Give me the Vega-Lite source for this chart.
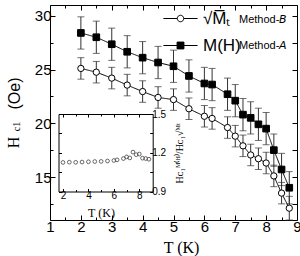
{
  "$schema": "https://vega.github.io/schema/vega-lite/v6.json",
  "autosize": {"type": "none"},
  "padding": {"left": 50, "top": 5, "right": 3, "bottom": 36},
  "width": 247,
  "height": 215,
  "background": "white",
  "config": {
    "view": {"stroke": null},
    "axis": {
      "grid": false,
      "domainColor": "#000",
      "domainWidth": 1,
      "tickColor": "#000",
      "tickWidth": 1,
      "labelColor": "#000",
      "titleColor": "#000",
      "labelFont": "Liberation Sans",
      "titleFont": "Liberation Serif",
      "titleFontWeight": "normal"
    },
    "legend": {"labelColor": "#000", "labelLimit": 300}
  },
  "datasets": {
    "hc1": [
      {"T": 2, "method": "B", "series": "Method-B", "H": 25.1, "err": 1.0},
      {"T": 2.5, "method": "B", "series": "Method-B", "H": 24.75, "err": 1.0},
      {"T": 3, "method": "B", "series": "Method-B", "H": 24.2, "err": 1.0},
      {"T": 3.5, "method": "B", "series": "Method-B", "H": 23.55, "err": 1.0},
      {"T": 4, "method": "B", "series": "Method-B", "H": 22.95, "err": 1.0},
      {"T": 4.5, "method": "B", "series": "Method-B", "H": 22.4, "err": 1.0},
      {"T": 5, "method": "B", "series": "Method-B", "H": 22.2, "err": 1.0},
      {"T": 5.5, "method": "B", "series": "Method-B", "H": 21.35, "err": 1.0},
      {"T": 6, "method": "B", "series": "Method-B", "H": 20.65, "err": 1.0},
      {"T": 6.25, "method": "B", "series": "Method-B", "H": 20.45, "err": 1.0},
      {"T": 6.75, "method": "B", "series": "Method-B", "H": 19.6, "err": 1.0},
      {"T": 7, "method": "B", "series": "Method-B", "H": 18.8, "err": 1.0},
      {"T": 7.25, "method": "B", "series": "Method-B", "H": 17.9, "err": 1.0},
      {"T": 7.5, "method": "B", "series": "Method-B", "H": 17.05, "err": 1.0},
      {"T": 7.75, "method": "B", "series": "Method-B", "H": 16.7, "err": 1.0},
      {"T": 8, "method": "B", "series": "Method-B", "H": 16.3, "err": 1.0},
      {"T": 8.25, "method": "B", "series": "Method-B", "H": 15.1, "err": 1.0},
      {"T": 8.5, "method": "B", "series": "Method-B", "H": 13.5, "err": 1.0},
      {"T": 8.75, "method": "B", "series": "Method-B", "H": 12.1, "err": 1.1},
      {"T": 2, "method": "A", "series": "Method-A", "H": 28.4, "err": 1.5},
      {"T": 2.5, "method": "A", "series": "Method-A", "H": 28.0, "err": 1.5},
      {"T": 3, "method": "A", "series": "Method-A", "H": 27.35, "err": 1.5},
      {"T": 3.5, "method": "A", "series": "Method-A", "H": 26.65, "err": 1.5},
      {"T": 4, "method": "A", "series": "Method-A", "H": 26.1, "err": 1.5},
      {"T": 4.5, "method": "A", "series": "Method-A", "H": 25.65, "err": 1.5},
      {"T": 5, "method": "A", "series": "Method-A", "H": 25.3, "err": 1.5},
      {"T": 5.5, "method": "A", "series": "Method-A", "H": 24.4, "err": 1.5},
      {"T": 6, "method": "A", "series": "Method-A", "H": 23.7, "err": 1.5},
      {"T": 6.25, "method": "A", "series": "Method-A", "H": 23.6, "err": 1.5},
      {"T": 6.75, "method": "A", "series": "Method-A", "H": 22.7, "err": 1.5},
      {"T": 7, "method": "A", "series": "Method-A", "H": 22.1, "err": 1.5},
      {"T": 7.25, "method": "A", "series": "Method-A", "H": 20.8, "err": 1.5},
      {"T": 7.5, "method": "A", "series": "Method-A", "H": 20.5, "err": 1.5},
      {"T": 7.75, "method": "A", "series": "Method-A", "H": 19.9, "err": 1.5},
      {"T": 8, "method": "A", "series": "Method-A", "H": 19.5, "err": 1.5},
      {"T": 8.25, "method": "A", "series": "Method-A", "H": 17.5, "err": 1.5},
      {"T": 8.5, "method": "A", "series": "Method-A", "H": 15.7, "err": 1.5},
      {"T": 8.75, "method": "A", "series": "Method-A", "H": 14.0, "err": 1.5}
    ],
    "ratio": [
      {"T": 2, "R": 1.125},
      {"T": 2.5, "R": 1.127},
      {"T": 3, "R": 1.126},
      {"T": 3.5, "R": 1.128},
      {"T": 4, "R": 1.13},
      {"T": 4.5, "R": 1.132},
      {"T": 5, "R": 1.133},
      {"T": 5.5, "R": 1.136},
      {"T": 6, "R": 1.14},
      {"T": 6.25, "R": 1.145},
      {"T": 6.75, "R": 1.155},
      {"T": 7, "R": 1.168},
      {"T": 7.25, "R": 1.16},
      {"T": 7.5, "R": 1.205},
      {"T": 7.75, "R": 1.185},
      {"T": 8, "R": 1.19},
      {"T": 8.25, "R": 1.158},
      {"T": 8.5, "R": 1.155},
      {"T": 8.75, "R": 1.15}
    ]
  },
  "layer": [
    {
      "data": {"name": "hc1"},
      "encoding": {
        "x": {
          "field": "T", "type": "quantitative",
          "scale": {"domain": [1, 9], "nice": false, "zero": false},
          "axis": {
            "orient": "bottom",
            "values": [1, 1.5, 2, 2.5, 3, 3.5, 4, 4.5, 5, 5.5, 6, 6.5, 7, 7.5, 8, 8.5, 9],
            "labelExpr": "datum.value % 1 === 0 ? format(datum.value, 'd') : ''",
            "tickSize": {"condition": {"test": "datum.value % 1 !== 0", "value": -3}, "value": -5},
            "labelFontSize": 15, "labelPadding": 4, "labelFlush": false, "labelOverlap": false,
            "title": "T (K)", "titleFontSize": 16,
            "titleX": 131, "titleY": 27, "titleBaseline": "middle", "titleAlign": "center"
          }
        },
        "y": {
          "field": "H", "type": "quantitative",
          "scale": {"domain": [11, 31], "nice": false, "zero": false},
          "axis": {
            "orient": "left",
            "values": [12.5, 15, 17.5, 20, 22.5, 25, 27.5, 30],
            "labelExpr": "datum.value % 5 === 0 ? format(datum.value, 'd') : ''",
            "tickSize": {"condition": {"test": "datum.value % 5 !== 0", "value": -3}, "value": -5},
            "labelFontSize": 15, "labelPadding": 4, "labelFlush": false, "labelOverlap": false,
            "title": "(Oe)", "titleFont": "Liberation Sans", "titleFontSize": 16,
            "titleAngle": -90, "titleX": -36, "titleY": 88, "titleBaseline": "middle", "titleAlign": "center"
          }
        }
      },
      "layer": [
        {
          "mark": {"type": "errorbar", "ticks": {"size": 7}, "color": "#333", "thickness": 1},
          "encoding": {"yError": {"field": "err"}, "detail": {"field": "method"}}
        },
        {
          "mark": {"type": "line", "color": "#000", "strokeWidth": 1},
          "encoding": {
            "detail": {"field": "method"},
            "strokeDash": {
              "field": "series", "type": "nominal",
              "scale": {"domain": ["Method-B", "Method-A"], "range": [[1, 0], [1, 0]]},
              "legend": {
                "orient": "top-right", "offset": 9, "title": null,
                "direction": "vertical", "padding": 0,
                "symbolSize": 0, "symbolStrokeWidth": 0, "symbolOpacity": 0, "labelOffset": 0,
                "labelFont": "Liberation Sans", "labelFontSize": 11, "rowPadding": 14,
                "labelExpr": "'Method-' + (datum.value === 'Method-B' ? '𝘉' : '𝘈')"
              }
            }
          }
        },
        {
          "transform": [{"filter": "datum.method === 'B'"}],
          "mark": {"type": "point", "shape": "circle", "filled": true, "fill": "#fff", "stroke": "#000", "strokeWidth": 1, "opacity": 1, "size": 40}
        },
        {
          "transform": [{"filter": "datum.method === 'A'"}],
          "mark": {"type": "point", "shape": "square", "filled": true, "fill": "#000", "stroke": "#000", "strokeWidth": 1, "opacity": 1, "size": 44}
        },
        {
          "transform": [{"filter": "datum.method === 'key'"}],
          "mark": {"type": "point", "filled": true, "stroke": "#000", "strokeWidth": 1, "opacity": 1},
          "encoding": {
            "shape": {
              "field": "method", "type": "nominal",
              "scale": {
                "domain": ["B", "A"],
                "range": [
                  "M-0.95,0H-0.18M0.18,0H0.95M-0.18,0A0.18,0.18 0 1 1 0.18,0A0.18,0.18 0 1 1 -0.18,0Z",
                  "M-0.95,0H0.95M-0.19,-0.19H0.19V0.19H-0.19Z"
                ]
              },
              "legend": {
                "orient": "none", "legendX": 112, "legendY": -5, "title": null,
                "direction": "vertical", "padding": 0, "symbolSize": 1296, "symbolStrokeWidth": 1,
                "labelFont": "Liberation Sans", "labelFontSize": 17, "rowPadding": -11,
                "labelExpr": "datum.value === 'B' ? '√M̅ₜ' : 'M(H)'"
              }
            },
            "fill": {
              "field": "method", "type": "nominal",
              "scale": {"domain": ["B", "A"], "range": ["#fff", "#000"]},
              "legend": {
                "orient": "none", "legendX": 112, "legendY": -5, "title": null,
                "direction": "vertical", "padding": 0, "symbolSize": 1296, "symbolStrokeWidth": 1,
                "labelFont": "Liberation Sans", "labelFontSize": 17, "rowPadding": -11,
                "labelExpr": "datum.value === 'B' ? '√M̅ₜ' : 'M(H)'"
              }
            }
          }
        }
      ]
    },
    {
      "data": {"name": "hc1"},
      "mark": {"type": "point", "opacity": 0},
      "encoding": {
        "x": {
          "field": "T", "type": "quantitative",
          "scale": {"domain": [1, 9], "nice": false, "zero": false},
          "axis": {
            "orient": "top",
            "values": [1, 1.5, 2, 2.5, 3, 3.5, 4, 4.5, 5, 5.5, 6, 6.5, 7, 7.5, 8, 8.5, 9],
            "labels": false,
            "tickSize": {"condition": {"test": "datum.value % 1 !== 0", "value": -3}, "value": -5},
            "title": "c1", "titleFontSize": 10, "titleAngle": -90,
            "titleX": -34, "titleY": 121, "titleBaseline": "middle", "titleAlign": "center"
          }
        },
        "y": {
          "field": "H", "type": "quantitative",
          "scale": {"domain": [11, 31], "nice": false, "zero": false},
          "axis": {
            "orient": "right",
            "values": [12.5, 15, 17.5, 20, 22.5, 25, 27.5, 30],
            "labels": false, "tickSize": -5,
            "title": "H", "titleFontSize": 16, "titleAngle": -90,
            "titleX": -283.5, "titleY": 137, "titleBaseline": "middle", "titleAlign": "center"
          }
        }
      }
    },
    {
      "data": {"name": "ratio"},
      "mark": {"type": "point", "shape": "circle", "filled": false, "stroke": "#444", "strokeWidth": 0.8, "size": 14, "opacity": 1},
      "encoding": {
        "x": {
          "field": "T", "type": "quantitative",
          "scale": {"domain": [1.65, 9.05], "range": [8.5, 102.7], "nice": false, "zero": false},
          "axis": {
            "orient": "bottom", "offset": -28.5,
            "values": [2, 3, 4, 5, 6, 7, 8],
            "labelExpr": "datum.value % 2 === 0 ? format(datum.value, 'd') : ''",
            "tickSize": {"condition": {"test": "datum.value % 2 !== 0", "value": -2}, "value": -3},
            "labelFontSize": 10, "labelPadding": 2, "labelFlush": false, "labelOverlap": false,
            "title": "T (K)", "titleFontSize": 12,
            "titleX": 51, "titleY": 21, "titleBaseline": "middle", "titleAlign": "center"
          }
        },
        "y": {
          "field": "R", "type": "quantitative",
          "scale": {"domain": [0.9, 1.5], "range": [186.5, 109], "nice": false, "zero": false},
          "axis": {
            "orient": "right", "offset": -144.3,
            "values": [0.9, 1.05, 1.2, 1.35, 1.5],
            "labelExpr": "(datum.value === 0.9 || datum.value === 1.2 || datum.value === 1.5) ? format(datum.value, '.1f') : ''",
            "tickSize": -3,
            "labelFontSize": 10, "labelPadding": 2, "labelFlush": false, "labelOverlap": false,
            "title": "Hᴄ₁ᴹ⁽ᴴ⁾/Hᴄ₁√ᴹᵗ", "titleFontSize": 10, "titleAngle": -90,
            "titleX": 27, "titleY": 147.75, "titleBaseline": "middle", "titleAlign": "center"
          }
        }
      }
    },
    {
      "data": {"name": "ratio"},
      "mark": {"type": "point", "opacity": 0},
      "encoding": {
        "x": {
          "field": "T", "type": "quantitative",
          "scale": {"domain": [1.65, 9.05], "range": [8.5, 102.7], "nice": false, "zero": false},
          "axis": {
            "orient": "top", "offset": -109,
            "values": [2, 3, 4, 5, 6, 7, 8],
            "labels": false, "title": null,
            "tickSize": {"condition": {"test": "datum.value % 2 !== 0", "value": -2}, "value": -3}
          }
        },
        "y": {
          "field": "R", "type": "quantitative",
          "scale": {"domain": [0.9, 1.5], "range": [186.5, 109], "nice": false, "zero": false},
          "axis": {
            "orient": "left", "offset": -8.5,
            "values": [0.9, 1.05, 1.2, 1.35, 1.5],
            "labels": false, "title": null, "tickSize": -3
          }
        }
      }
    }
  ],
  "resolve": {
    "scale": {"x": "independent", "y": "independent"},
    "axis": {"x": "independent", "y": "independent"}
  }
}
